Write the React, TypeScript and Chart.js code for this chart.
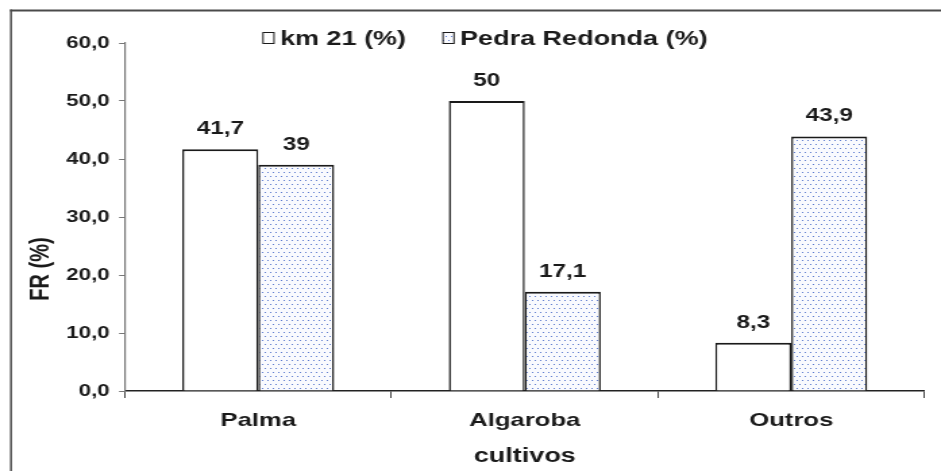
import React, { useEffect, useRef } from "react";
import { Chart, registerables } from "chart.js";

Chart.register(...registerables);

// ---- data ----
const categories = ["Palma", "Algaroba", "Outros"];
const seriesNames = ["km 21 (%)", "Pedra Redonda (%)"];
const km21 = [41.7, 50, 8.3];
const pedraRedonda = [39, 17.1, 43.9];
const yTicks = [0, 10, 20, 30, 40, 50, 60];
const xTitle = "cultivos";
const yTitle = "FR (%)";

// ---- geometry (the source image is horizontally stretched) ----
const W = 941;
const H = 471;
const IW = 697;
const SX = W / IW;
const FONT = "'Liberation Sans', Arial, sans-serif";
const TEXT = "#1a1a1a";

const fmt = (v: number, digits?: number) =>
  (digits === undefined ? String(v) : v.toFixed(digits)).replace(".", ",");

function makePattern(ctx: CanvasRenderingContext2D) {
  const c = document.createElement("canvas");
  c.width = 4;
  c.height = 8;
  const p = c.getContext("2d")!;
  p.fillStyle = "#f9fafe";
  p.fillRect(0, 0, 4, 8);
  p.fillStyle = "#5d7bcf";
  p.fillRect(0, 0, 1, 1);
  p.fillRect(2, 4, 1, 1);
  return ctx.createPattern(c, "repeat")!;
}

export default function App() {
  const ref = useRef<HTMLCanvasElement>(null);

  useEffect(() => {
    const canvas = ref.current!;
    const ctx = canvas.getContext("2d")!;
    const pattern = makePattern(ctx);

    const framePlugin = {
      id: "frame",
      beforeDraw(chart: any) {
        const c = chart.ctx;
        c.save();
        c.fillStyle = "#4a4a4a";
        c.fillRect(10 / SX, 9.5, IW, 2);
        c.fillRect(10 / SX, 9.5, 2 / SX, H);
        c.restore();
      },
    };

    const legendPlugin = {
      id: "customLegend",
      afterDraw(chart: any) {
        const c = chart.ctx;
        const items = [
          { box: 263, text: 280, fill: "#ffffff" as any },
          { box: 443, text: 460, fill: pattern as any },
        ];
        c.save();
        c.font = `bold 20px ${FONT}`;
        c.textBaseline = "middle";
        c.textAlign = "left";
        items.forEach((it, i) => {
          const bx = it.box / SX;
          const bw = 11 / SX;
          c.fillStyle = it.fill;
          c.fillRect(bx, 32, bw, 11);
          c.strokeStyle = "#1a1a1a";
          c.lineWidth = 1;
          c.strokeRect(bx, 32.5, bw, 11);
          c.fillStyle = TEXT;
          c.fillText(seriesNames[i], it.text / SX, 39);
        });
        c.restore();
      },
    };

    const labelPlugin = {
      id: "valueLabels",
      afterDatasetsDraw(chart: any) {
        const c = chart.ctx;
        c.save();
        c.font = `bold 18px ${FONT}`;
        c.fillStyle = TEXT;
        c.textAlign = "center";
        c.textBaseline = "middle";
        chart.data.datasets.forEach((ds: any, di: number) => {
          const meta = chart.getDatasetMeta(di);
          meta.data.forEach((bar: any, i: number) => {
            c.fillText(fmt(ds.data[i]), bar.x, bar.y - 20);
          });
        });
        c.restore();
      },
    };

    const yTitlePlugin = {
      id: "yTitle",
      afterDraw(chart: any) {
        const c = chart.ctx;
        c.save();
        c.translate(41 / SX, 269);
        c.rotate(-Math.PI / 2);
        c.font = `bold 20px ${FONT}`;
        c.fillStyle = TEXT;
        c.textAlign = "center";
        c.textBaseline = "middle";
        c.fillText(yTitle, 0, 0);
        c.restore();
      },
    };

    const chart = new Chart(canvas, {
      type: "bar",
      data: {
        labels: categories,
        datasets: [
          {
            label: seriesNames[0],
            data: km21,
            backgroundColor: "#ffffff",
            borderColor: "#1a1a1a",
            borderWidth: { left: 1.5, right: 1.5, top: 2, bottom: 0 },
            categoryPercentage: 0.57,
            barPercentage: 1,
          },
          {
            label: seriesNames[1],
            data: pedraRedonda,
            backgroundColor: pattern,
            borderColor: "#1a1a1a",
            borderWidth: { left: 1.5, right: 1.5, top: 2, bottom: 0 },
            categoryPercentage: 0.57,
            barPercentage: 1,
          },
        ],
      },
      options: {
        responsive: false,
        animation: false,
        devicePixelRatio: 1,
        layout: { padding: { left: 0, right: IW - 924.5 / SX, top: 43, bottom: 0 } },
        plugins: { legend: { display: false }, tooltip: { enabled: false } },
        scales: {
          x: {
            offset: true,
            grid: {
              offset: true,
              drawOnChartArea: false,
              drawTicks: true,
              tickLength: 7,
              color: "#444",
              lineWidth: 1,
            },
            border: { color: "#222", width: 1.5 },
            ticks: { font: { family: FONT, size: 19, weight: "bold" }, color: TEXT, padding: 11 },
            title: {
              display: true,
              text: xTitle,
              font: { family: FONT, size: 20, weight: "bold" },
              color: TEXT,
              padding: { top: 0, bottom: 3 },
            },
            afterFit: (s: any) => {
              s.height = 80;
            },
          },
          y: {
            min: yTicks[0],
            max: yTicks[yTicks.length - 1],
            ticks: {
              stepSize: yTicks[1] - yTicks[0],
              callback: (v: any) => fmt(Number(v), 1),
              font: { family: FONT, size: 16.5, weight: "bold" },
              color: TEXT,
              padding: 7,
            },
            grid: { drawOnChartArea: false, drawTicks: true, tickLength: 4.4, color: "#777" },
            border: { color: "#777", width: 1.2 },
            afterFit: (s: any) => {
              s.width = 125 / SX;
            },
          },
        },
      } as any,
      plugins: [framePlugin, legendPlugin, labelPlugin, yTitlePlugin],
    });

    return () => chart.destroy();
  }, []);

  return (
    <div style={{ position: "fixed", left: 0, top: 0, width: W, height: H, background: "#fff" }}>
      <canvas
        ref={ref}
        width={IW}
        height={H}
        style={{ width: `${W}px`, height: `${H}px`, display: "block" }}
      />
    </div>
  );
}
